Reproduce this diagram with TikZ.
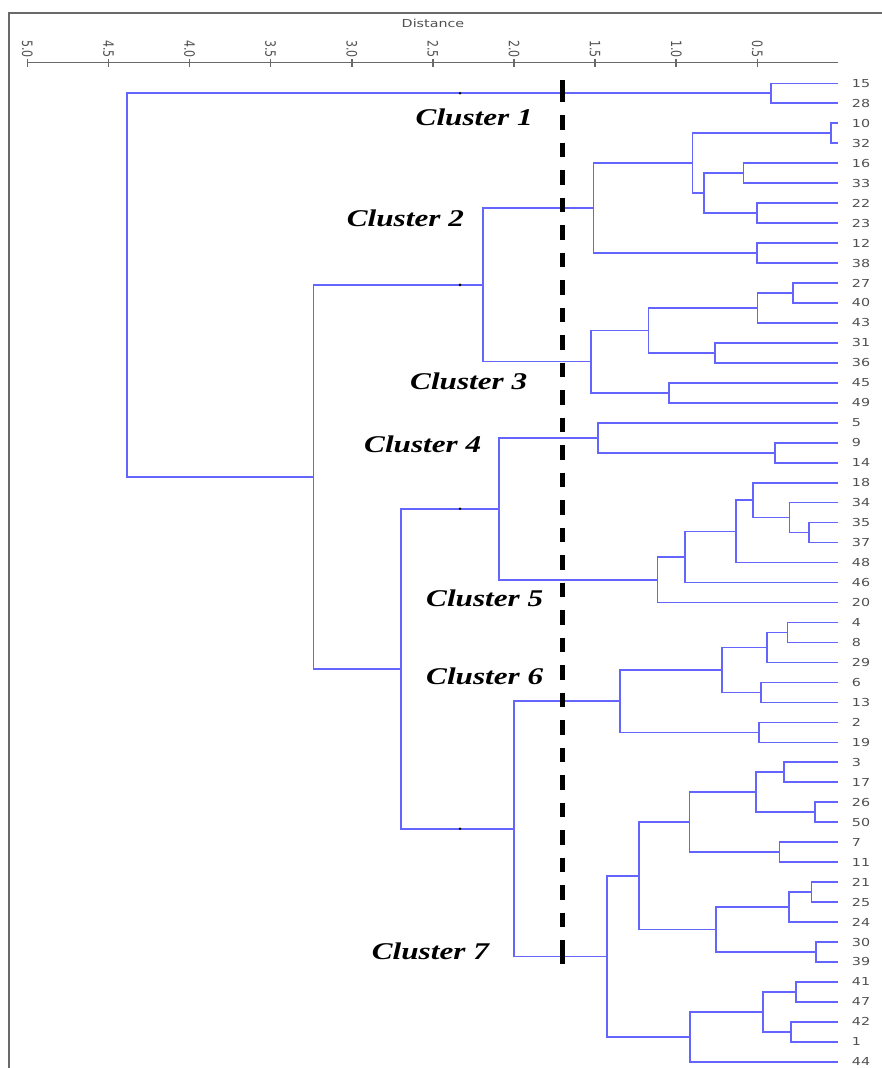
\documentclass[tikz,border=0pt]{standalone}
\usepackage{fontspec}
\newfontfamily\axisfont{DejaVu Sans}
\newfontfamily\clusterfont{Liberation Serif}
\usetikzlibrary{calc}

\definecolor{treeblue}{RGB}{100,100,255}
\definecolor{axisgray}{RGB}{105,105,105}
\definecolor{labelgray}{RGB}{80,80,80}

\newcommand{\widen}[1]{\scalebox{1.3}[1]{#1}}
% merge point: name, distance x, upper child, lower child
\newcommand{\joinat}[4]{%
  \path let \p1=($(#3)!0.5!(#4)$) in coordinate (#1) at (#2,\y1);
  \draw [branch] (#3) -| (#1) |- (#4);}

\begin{document}
\begin{tikzpicture}[x=1pt,y=1pt,yscale=-1,
  branch/.style={draw=treeblue, line width=1.6pt},
  axisline/.style={draw=axisgray, line width=1.5pt},
  leaflabel/.style={anchor=west, inner sep=0.75pt, text=labelgray, font=\axisfont\fontsize{11}{13}\selectfont},
  ticklabel/.style={anchor=east, rotate=-90, inner sep=0.75pt, text=labelgray, font=\axisfont\fontsize{11}{13}\selectfont},
  cutline/.style={line width=5pt},
  cluster/.style={anchor=base west, inner sep=0pt, font=\clusterfont\bfseries\itshape\fontsize{24}{28}\selectfont}]
\useasboundingbox (0,0) rectangle (882,1068);

%Straight Lines (frame)
\draw [draw=axisgray, line width=2pt] (9,1068) -- (9,13.3) -- (882,13.3) ;

% Text Node
\node [leaflabel, anchor=center] (dist) at (433,23.3) {\widen{Distance}};

%Straight Lines (axis)
\draw [axisline] (26.7,62.7) -- (838.4,62.7) ;
\foreach \d [count=\k] in {5.0,4.5,4.0,3.5,3.0,2.5,2.0,1.5,1.0,0.5} {
  \draw [axisline] (838.4-162.2*\d,58.7) -- (838.4-162.2*\d,66.5) ;
  \node [ticklabel] (tick\k) at (838.4-162.2*\d,58.7) {\scalebox{1}[1.3]{\d}};
}

% leaves and their labels
\foreach \lab [count=\i from 0] in {15,28,10,32,16,33,22,23,12,38,27,40,43,31,36,45,49,5,9,14,18,34,35,37,48,46,20,4,8,29,6,13,2,19,3,17,26,50,7,11,21,25,24,30,39,41,47,42,1,44} {
  \coordinate (lf\lab) at (838.4,83.3+19.97*\i);
  \node [leaflabel] (t\lab) at (851,83.3+19.97*\i) {\widen{\lab}};
}

%Cluster 1
\joinat{m15}{771}{lf15}{lf28}
%Cluster 2
\joinat{m10}{830.7}{lf10}{lf32}
\joinat{m16}{743.3}{lf16}{lf33}
\joinat{m22}{756.7}{lf22}{lf23}
\joinat{m16b}{704}{m16}{m22}
\joinat{m10b}{692.3}{m10}{m16b}
\joinat{m12}{756.7}{lf12}{lf38}
\joinat{c2}{593.3}{m10b}{m12}
%Cluster 3
\joinat{m27}{792.7}{lf27}{lf40}
\joinat{m27b}{757.3}{m27}{lf43}
\joinat{m31}{715}{lf31}{lf36}
\joinat{m27c}{648.3}{m27b}{m31}
\joinat{m45}{669}{lf45}{lf49}
\joinat{c3}{591}{m27c}{m45}
%Cluster 4
\joinat{m9}{775}{lf9}{lf14}
\joinat{c4}{597.7}{lf5}{m9}
%Cluster 5
\joinat{m35}{808.7}{lf35}{lf37}
\joinat{m34}{789.3}{lf34}{m35}
\joinat{m18}{752.7}{lf18}{m34}
\joinat{m18b}{735.7}{m18}{lf48}
\joinat{m18c}{685}{m18b}{lf46}
\joinat{c5}{657.3}{m18c}{lf20}
%Cluster 6
\joinat{m4}{787.3}{lf4}{lf8}
\joinat{m4b}{767}{m4}{lf29}
\joinat{m6}{761}{lf6}{lf13}
\joinat{m4c}{721.7}{m4b}{m6}
\joinat{m2}{759}{lf2}{lf19}
\joinat{c6}{620}{m4c}{m2}
%Cluster 7
\joinat{m3}{784}{lf3}{lf17}
\joinat{m26}{815}{lf26}{lf50}
\joinat{m3b}{756}{m3}{m26}
\joinat{m7}{779.3}{lf7}{lf11}
\joinat{m3c}{689.3}{m3b}{m7}
\joinat{m21}{811.3}{lf21}{lf25}
\joinat{m21b}{789}{m21}{lf24}
\joinat{m30}{815.7}{lf30}{lf39}
\joinat{m21c}{715.7}{m21b}{m30}
\joinat{m3d}{639}{m3c}{m21c}
\joinat{m41}{795.7}{lf41}{lf47}
\joinat{m42}{791}{lf42}{lf1}
\joinat{m41b}{762.7}{m41}{m42}
\joinat{m41c}{690}{m41b}{lf44}
\joinat{c7}{606.7}{m3d}{m41c}
% upper levels
\joinat{c23}{482.7}{c2}{c3}
\joinat{c45}{498.7}{c4}{c5}
\joinat{c67}{514}{c6}{c7}
\joinat{c4567}{400.7}{c45}{c67}
\joinat{c27}{313.3}{c23}{c4567}
\joinat{root}{126.7}{m15}{c27}

%Shape: small marks
\foreach \m in {m15,c23,c45,c67} {
  \fill (460,0 |- \m) circle [radius=1.4pt] ;
}

%Straight Lines (cut)
\coordinate (cutTop) at (562.3,80);
\coordinate (cutBot) at (562.3,964);
\draw [cutline, dash pattern={on 14.5pt off 13pt}] (562.3,87.5) -- (562.3,954.5) ;
\draw [cutline] (cutTop) -- (562.3,101.5) ;
\draw [cutline] (562.3,942) -- (cutBot) ;

% Text Node
\node [cluster] (cl1) at (415.5,125.7) {\widen{Cluster 1}};
% Text Node
\node [cluster] (cl2) at (346.7,226) {\widen{Cluster 2}};
% Text Node
\node [cluster] (cl3) at (410,389.3) {\widen{Cluster 3}};
% Text Node
\node [cluster] (cl4) at (364,452.3) {\widen{Cluster 4}};
% Text Node
\node [cluster] (cl5) at (426,606.7) {\widen{Cluster 5}};
% Text Node
\node [cluster] (cl6) at (426,684.3) {\widen{Cluster 6}};
% Text Node
\node [cluster] (cl7) at (371.7,959) {\widen{Cluster 7}};

\end{tikzpicture}
\end{document}
